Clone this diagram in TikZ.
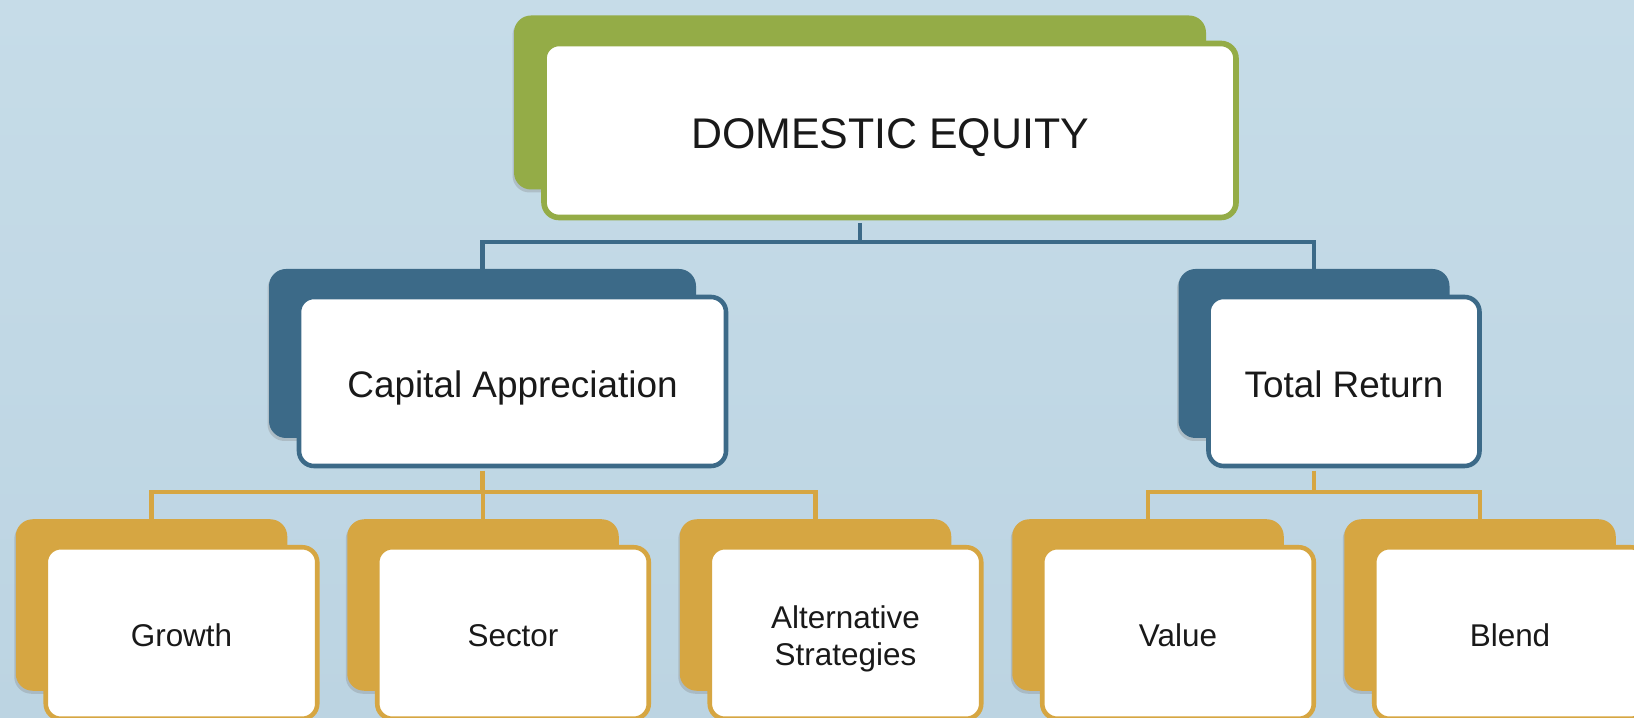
\documentclass[tikz,border=0pt]{standalone}
\usepackage{fontspec}
\setmainfont{Liberation Sans}
\usepackage{xcolor}
\usepackage{tikz}
\usetikzlibrary{calc,positioning,shadows}

\definecolor{bgtop}{HTML}{C6DCE8}
\definecolor{bgbot}{HTML}{BCD4E2}
\definecolor{eqgreen}{HTML}{94AC47}
\definecolor{eqblue}{HTML}{3C6A88}
\definecolor{eqgold}{HTML}{D6A642}

\begin{document}
\begin{tikzpicture}[
    x=1cm, y=1cm,
    back/.style={rounded corners=0.34cm, inner sep=0pt, minimum height=3.43cm,
        drop shadow={shadow xshift=-0.03cm, shadow yshift=-0.06cm, opacity=0.3}},
    face/.style={rounded corners=0.3cm, draw, fill=white, line width=2.6pt, inner sep=0pt,
        minimum height=3.43cm, text=black!90},
    capht/.style={text height=#1, text depth=0pt},
    lvlone/.style={font=\fontsize{24.4}{28}\selectfont, capht=20.5pt},
    lvltwo/.style={font=\fontsize{21}{25}\selectfont, capht=18pt},
    leaf/.style={minimum width=\leafW cm, font=\fontsize{17.9}{20.8}\selectfont},
    oneline/.style={capht=15.6pt},
    twoline/.style={capht=36.6pt},
    link/.style={line width=2.8pt},
    offset/.style={shift={(0.6,-0.56)}}
]

% page and background
\path[use as bounding box] (0,0) rectangle (32.68,-14.36);
\shade[top color=bgtop, bottom color=bgbot] (0,0) rectangle (32.68,-14.36);

\def\leafW{5.43}   % leaf box width
\def\leafY{-12.10} % leaf row

% top box
\node[back, fill=eqgreen, minimum width=13.84cm, minimum height=3.48cm] (topB) at (17.20,-2.05) {};
\node[face, draw=eqgreen, line width=3.2pt, minimum width=13.84cm, minimum height=3.48cm, lvlone] (topF)
      at ([offset]topB) {DOMESTIC EQUITY};

% second row
\node[back, fill=eqblue, minimum width=8.54cm, minimum height=3.38cm] (capB) at (9.65,-7.07) {};
\node[face, draw=eqblue, minimum width=8.54cm, minimum height=3.38cm, lvltwo] (capF)
      at ([offset]capB) {Capital Appreciation};
\node[back, fill=eqblue, minimum width=5.42cm, minimum height=3.38cm] (totB) at (26.28,-7.07) {};
\node[face, draw=eqblue, minimum width=5.42cm, minimum height=3.38cm, lvltwo] (totF)
      at ([offset]totB) {Total Return};

% leaves
\foreach \nm/\x/\st/\txt in {grow/3.03/oneline/Growth, sect/9.66/oneline/Sector,
                             alt/16.31/twoline/{\begin{tabular}[b]{@{}c@{}}Alternative\\Strategies\end{tabular}},
                             val/22.96/oneline/Value, blend/29.60/oneline/Blend}{
  \node[back, fill=eqgold, minimum width=\leafW cm] (\nm B) at (\x,\leafY) {};
  \node[face, draw=eqgold, leaf, \st] (\nm F) at ([offset]\nm B) {\txt};
}

% connectors
\coordinate (barA) at (0,-4.84);
\coordinate (barB) at (0,-9.84);
\draw[link, eqblue, shorten <=1.5pt] (topB |- topF.south) -- (topB |- barA) -| (capB.north);
\draw[link, eqblue] (topB |- barA) -| (totB.north);

\draw[link, eqgold, shorten <=1.3pt] (capB |- capF.south) -- (capB |- barB) -| (growB.north);
\draw[link, eqgold] (capB |- barB) -| (sectB.north);
\draw[link, eqgold] (capB |- barB) -| (altB.north);

\draw[link, eqgold, shorten <=1.3pt] (totB |- totF.south) -- (totB |- barB) -| (valB.north);
\draw[link, eqgold] (totB |- barB) -| (blendB.north);

\end{tikzpicture}
\end{document}
